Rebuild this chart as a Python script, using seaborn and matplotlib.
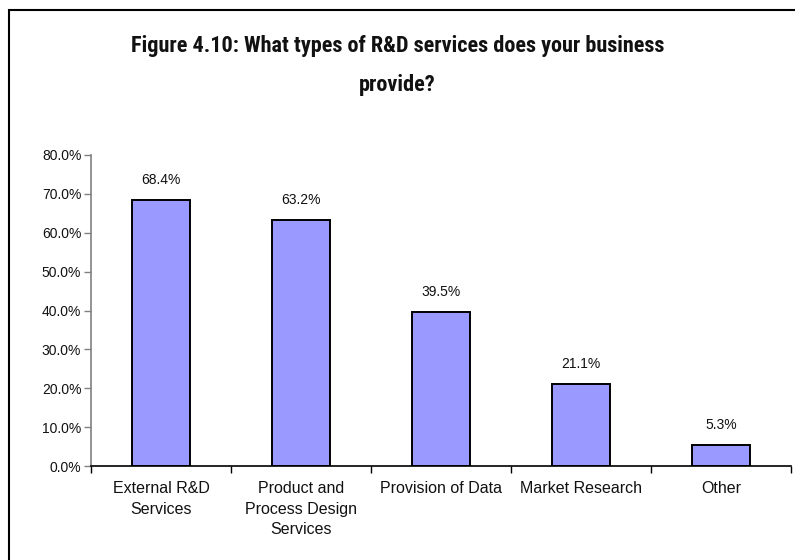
import matplotlib
matplotlib.use("Agg")
import matplotlib.pyplot as plt
from matplotlib.patches import Rectangle
from matplotlib.ticker import FuncFormatter, FixedLocator
import seaborn as sns
import pandas as pd

categories = [
    "External R&D\nServices",
    "Product and\nProcess Design\nServices",
    "Provision of Data",
    "Market Research",
    "Other",
]
values = [68.4, 63.2, 39.5, 21.1, 5.3]
title = "Figure 4.10: What types of R&D services does your business\nprovide?"

df = pd.DataFrame({"category": categories, "value": values})

sns.set_theme(style="white")
plt.rcParams["font.family"] = ["Liberation Sans", "DejaVu Sans"]
narrow = ["Roboto Condensed", "PT Sans Narrow", "Liberation Sans", "DejaVu Sans"]

fig = plt.figure(figsize=(7.95, 5.6), dpi=100)
ax = fig.add_axes([91 / 795, 1 - 466 / 560, 700 / 795, 311 / 560])

sns.barplot(data=df, x="category", y="value", ax=ax, width=0.41,
            color="#9999FF", saturation=1, edgecolor="black", linewidth=1.4)

ax.set_xlim(-0.5, len(categories) - 0.5)
ax.set_ylim(0, 80)
ax.set_yticks(range(0, 81, 10))
ax.yaxis.set_major_formatter(FuncFormatter(lambda v, _: f"{v:.1f}%"))
ax.set_xlabel("")
ax.set_ylabel("")

for lbl in ax.get_xticklabels():
    lbl.set_fontsize(11.5)
    lbl.set_linespacing(1.45)
    lbl.set_verticalalignment("top")
    lbl.set_color("#111111")
for lbl in ax.get_yticklabels():
    lbl.set_fontsize(10)
    lbl.set_color("#111111")

# category boundaries carry the x tick marks
ax.xaxis.set_minor_locator(FixedLocator([i - 0.5 for i in range(len(categories) + 1)]))
ax.tick_params(axis="x", which="major", length=0, pad=11)
ax.tick_params(axis="x", which="minor", bottom=True, length=5, width=1, color="black")
ax.tick_params(axis="y", which="major", left=True, length=5, width=1,
               color="#808080", pad=2)

for s in ["top", "right"]:
    ax.spines[s].set_visible(False)
ax.spines["left"].set_color("#808080")
ax.spines["left"].set_linewidth(1.2)
ax.spines["bottom"].set_color("black")
ax.spines["bottom"].set_linewidth(1.2)

for i, v in enumerate(values):
    ax.annotate(f"{v:.1f}%", (i, v), xytext=(0, 14.5), textcoords="offset points",
                ha="center", va="center", fontsize=10, color="#111111")

fig.text(0.500, 1 - 65.5 / 560, title, ha="center", va="center",
         fontsize=16, fontweight="bold", family=narrow, linespacing=2.05,
         color="#111111")

# chart-area frame
fig.patches.append(Rectangle((9 / 795, -0.1), 1.2, 1 - 10 / 560 + 0.1,
                             transform=fig.transFigure, fill=False,
                             edgecolor="black", linewidth=1.5))

fig.savefig("out.png", dpi=100)
